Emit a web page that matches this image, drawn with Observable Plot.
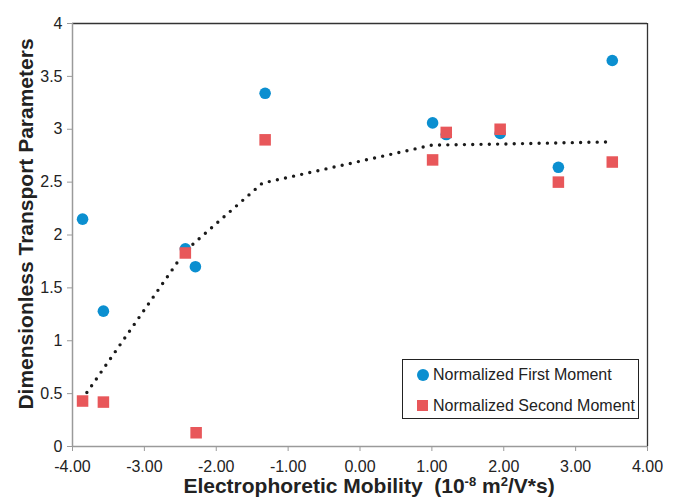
<!DOCTYPE html>
<html><head><meta charset="utf-8">
<script src="https://cdn.jsdelivr.net/npm/d3@7"></script>
<script src="https://cdn.jsdelivr.net/npm/@observablehq/plot@0.6"></script>
<style>
body{margin:0;background:#fff;font-family:"Liberation Sans",Arial,sans-serif;}
#wrap{position:relative;width:673px;height:504px;overflow:hidden;}
#wrap svg{position:absolute;left:0;top:0;}
.ytitle{position:absolute;left:25px;top:224px;transform:translate(-50%,-50%) rotate(-90deg);white-space:nowrap;font-weight:bold;font-size:21px;line-height:1;color:#222;}
.xtitle{position:absolute;left:369px;top:475px;transform:translateX(-50%);white-space:nowrap;font-weight:bold;font-size:21px;line-height:1;color:#222;}
.xtitle sup{font-size:0.62em;line-height:0;vertical-align:0.55em;}
.legend{position:absolute;left:402px;top:359px;width:235px;height:58px;border:1.3px solid #222;background:#fff;font-size:16px;color:#222;}
.legend .row{position:absolute;left:0;height:20px;line-height:20px;white-space:nowrap;}
.legend .sym{position:absolute;left:14px;top:4px;width:12px;height:12px;}
.legend .lab{position:absolute;left:30px;top:0;}
</style></head><body><div id="wrap"></div>
<script>
const mobilityFirst = [-3.86, -3.57, -2.43, -2.29, -1.32, 1.01, 1.20, 1.95, 2.76, 3.51];
const firstMoment   = [2.15, 1.28, 1.87, 1.70, 3.34, 3.06, 2.95, 2.96, 2.64, 3.65];
const mobilitySecond = [-3.86, -3.57, -2.43, -2.28, -1.32, 1.01, 1.20, 1.95, 2.76, 3.51];
const secondMoment   = [0.43, 0.42, 1.83, 0.13, 2.90, 2.71, 2.97, 3.00, 2.50, 2.69];
const trendX = [-3.80, -2.43, -1.36, 1.00, 1.95, 3.45];
const trendY = [0.51, 1.85, 2.49, 2.85, 2.86, 2.88];
const xTicks = [-4, -3, -2, -1, 0, 1, 2, 3, 4];
const yTicks = [0, 0.5, 1, 1.5, 2, 2.5, 3, 3.5, 4];
const seriesNames = ["Normalized First Moment", "Normalized Second Moment"];
const seriesColors = ["#0b8fd0", "#e8575a"];

const first = mobilityFirst.map((x, i) => ({x, y: firstMoment[i]}));
const second = mobilitySecond.map((x, i) => ({x, y: secondMoment[i]}));
const trend = trendX.map((x, i) => ({x, y: trendY[i]}));

const chart = Plot.plot({
  width: 673,
  height: 504,
  marginLeft: 72,
  marginRight: 26,
  marginTop: 23,
  marginBottom: 58,
  style: {fontFamily: '"Liberation Sans", Arial, sans-serif', background: "transparent"},
  x: {domain: [-4, 4]},
  y: {domain: [0, 4]},
  marks: [
    Plot.ruleY([4], {stroke: "#333", strokeWidth: 1.3}),
    Plot.ruleX([4], {stroke: "#333", strokeWidth: 1.3}),
    Plot.ruleX([-4], {stroke: "#9a9a9a", strokeWidth: 1.5}),
    Plot.ruleY([0], {stroke: "#9a9a9a", strokeWidth: 1.5}),
    Plot.axisX({ticks: xTicks, tickFormat: d => d.toFixed(2), tickSize: 5, tickPadding: 9, fontSize: 16, stroke: "#9a9a9a", fill: "#222", label: null}),
    Plot.axisY({ticks: yTicks, tickFormat: d => String(d), tickSize: 5, tickPadding: 5, fontSize: 16, stroke: "#9a9a9a", fill: "#222", label: null}),
    Plot.line(trend, {x: "x", y: "y", stroke: "#1a1a1a", strokeWidth: 3.4, strokeDasharray: "0 8.3", strokeLinecap: "round"}),
    Plot.dot(first, {x: "x", y: "y", r: 5.8, fill: seriesColors[0], symbol: "circle"}),
    Plot.dot(second, {x: "x", y: "y", r: 6.5, fill: seriesColors[1], symbol: "square"})
  ]
});
const wrap = document.getElementById("wrap");
wrap.appendChild(chart);

const yt = document.createElement("div");
yt.className = "ytitle";
yt.textContent = "Dimensionless Transport Parameters";
wrap.appendChild(yt);

const xt = document.createElement("div");
xt.className = "xtitle";
xt.innerHTML = "Electrophoretic Mobility&nbsp; (10<sup>-8</sup> m<sup>2</sup>/V*s)";
wrap.appendChild(xt);

const lg = document.createElement("div");
lg.className = "legend";
seriesNames.forEach((name, i) => {
  const row = document.createElement("div");
  row.className = "row";
  row.style.top = (i === 0 ? 5 : 36) + "px";
  const sym = document.createElement("div");
  sym.className = "sym";
  sym.style.background = seriesColors[i];
  if (i === 0) sym.style.borderRadius = "50%";
  else { sym.style.width = "11px"; sym.style.height = "11px"; sym.style.left = "14px"; }
  const lab = document.createElement("span");
  lab.className = "lab";
  lab.textContent = name;
  row.appendChild(sym);
  row.appendChild(lab);
  lg.appendChild(row);
});
wrap.appendChild(lg);
</script>
</body></html>
